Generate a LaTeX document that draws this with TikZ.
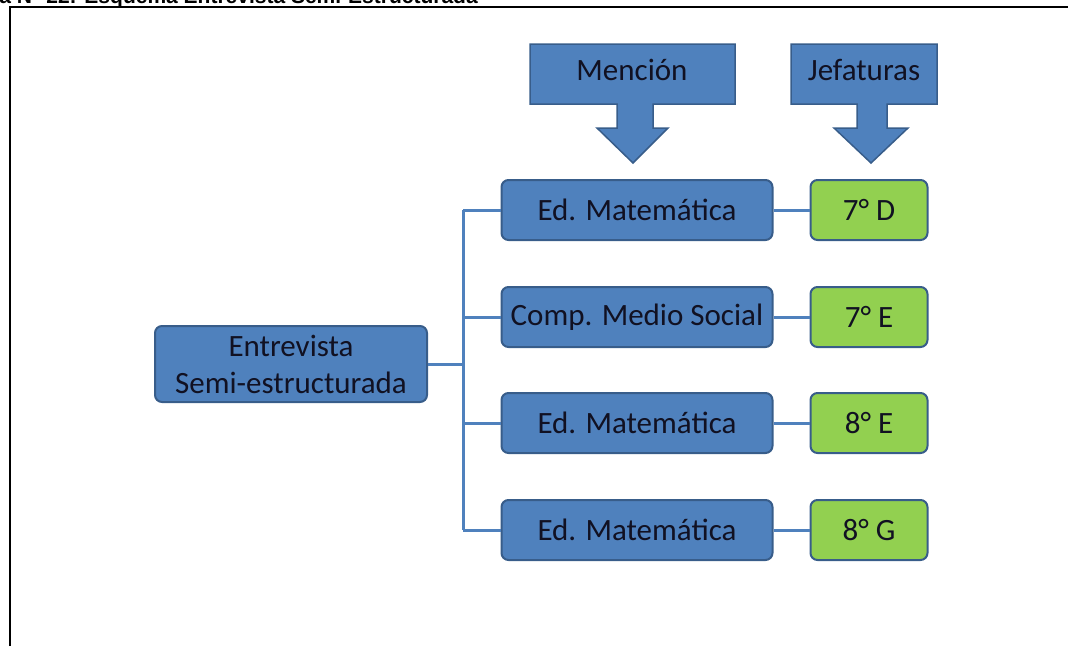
\documentclass[tikz,border=0pt]{standalone}
\usepackage{fontspec}
\setmainfont{Carlito}
\newfontfamily\titlefont{Liberation Sans}
\definecolor{boxblue}{HTML}{4F81BD}
\definecolor{boxedge}{HTML}{385D8A}
\definecolor{boxgreen}{HTML}{92D050}
\definecolor{lineblue}{HTML}{4F81BD}
\definecolor{txt}{HTML}{111122}
\begin{document}
\begin{tikzpicture}[x=1pt,y=-1pt,
  boxfont/.style={font=\fontsize{31}{37}\selectfont,text=txt},
  bluebox/.style={draw=boxedge,line width=2pt,fill=boxblue,rounded corners=7pt,
    minimum width=271pt,minimum height=60pt,inner sep=0pt,align=center,boxfont},
  greenbox/.style={draw=boxedge,line width=2pt,fill=boxgreen,rounded corners=7pt,
    minimum width=117pt,minimum height=60pt,inner sep=0pt,boxfont},
  conn/.style={draw=lineblue,line width=3pt},
  arrowshape/.style={draw=boxedge,line width=1.5pt,fill=boxblue,line join=miter}]
\useasboundingbox (0,0) rectangle (1068,646);
\begin{scope}
\clip (0,0) rectangle (1068,646);
\node[anchor=base east,font=\titlefont\bfseries\fontsize{21}{24}\selectfont,inner sep=0pt] (title) at (478,3) {Figura N° 22: Esquema Entrevista Semi-Estructurada};
\end{scope}
% frame
\draw[line width=2pt] (10,646) -- (10,7) -- (1068,7);
% arrows
\draw[arrowshape] (530,44) -- (735,44) -- (735,104) -- (653,104) -- (653,128) -- (668,128) -- (633,163) -- (597,128) -- (617,128) -- (617,104) -- (530,104) -- cycle;
\draw[arrowshape] (791,44) -- (937,44) -- (937,104) -- (887,104) -- (887,128) -- (908,128) -- (871,163) -- (834,128) -- (857,128) -- (857,104) -- (791,104) -- cycle;
\node[boxfont] (mencion) at (632,70) {Mención};
\node[boxfont] (jefaturas) at (864,70) {Jefaturas};
% nodes
\node[bluebox,minimum width=272pt,minimum height=76pt] (ent) at (291,364) {Entrevista\\Semi-estructurada};
\node[bluebox] (m1) at (637,210) {Ed. Matemática};
\node[bluebox] (m2) at (637,317) {Comp. Medio Social};
\node[bluebox] (m3) at (637,423) {Ed. Matemática};
\node[bluebox] (m4) at (637,530) {Ed. Matemática};
\node[greenbox] (g1) at (869,210) {7° D};
\node[greenbox] (g2) at (869,317) {7° E};
\node[greenbox] (g3) at (869,423) {8° E};
\node[greenbox] (g4) at (869,530) {8° G};
% connectors
\coordinate (trunk) at (463,364);
\draw[conn] (ent.east) -- (trunk);
\draw[conn] (trunk |- m1.west) -- (trunk |- m4.west);
\foreach \n in {m1,m2,m3,m4}{\draw[conn] (trunk |- \n.west) -- (\n.west);}
\draw[conn] (m1.east) -- (g1.west);
\draw[conn] (m2.east) -- (g2.west);
\draw[conn] (m3.east) -- (g3.west);
\draw[conn] (m4.east) -- (g4.west);
\end{tikzpicture}
\end{document}
